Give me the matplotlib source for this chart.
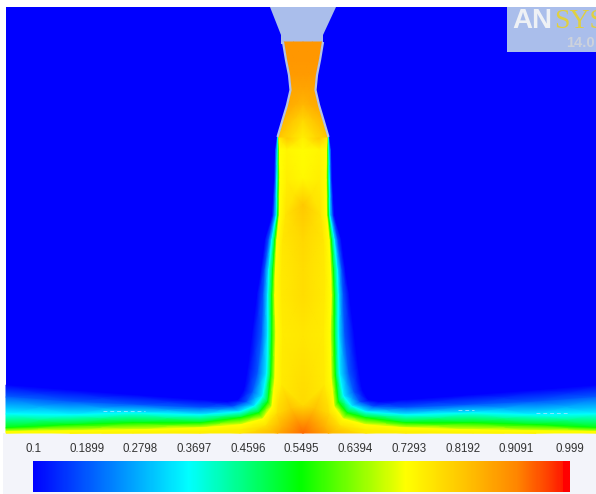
import numpy as np
import matplotlib
matplotlib.use("Agg")
import matplotlib.pyplot as plt
from matplotlib.colors import LinearSegmentedColormap, Normalize
from matplotlib.cm import ScalarMappable
from matplotlib.patches import Rectangle, Polygon

plt.rcParams['font.family'] = ['Liberation Sans', 'DejaVu Sans']

# --- COLORBAR ---
TICK_VALUES = [0.1, 0.1899, 0.2798, 0.3697, 0.4596, 0.5495, 0.6394, 0.7293, 0.8192, 0.9091, 0.999]
TICK_LABELS = ["0.1", "0.1899", "0.2798", "0.3697", "0.4596", "0.5495", "0.6394", "0.7293", "0.8192", "0.9091", "0.999"]
VMIN, VMAX = 0.1, 0.999
CMAP_STOPS = [(0.0, "#0000ff"), (0.29, "#00ffff"), (0.497, "#00ff00"), (0.695, "#ffff00"),
              (0.806, "#ffc300"), (0.90, "#ff8700"), (0.963, "#ff3c00"), (0.987, "#ff1900"),
              (0.988, "#ff0000"), (1.0, "#ff0000")]

# --- LEFT HALF OF THE JET, one row per contour, one column per station along it ---
CENTER_X = 303
BLUE_X = [6, 67, 133, 200, 228, 238, 244, 248, 252, 257, 261, 265, 272, 274, 275, 277]
BLUE_Y = [385, 390, 395, 400, 402, 400, 390, 367, 335, 295, 270, 240, 215, 180, 150, 137]
MID_X = [6, 70, 133, 200, 233, 247, 253, 258, 262, 263.5, 265, 269, 274, 275.5, 276, 277.5]
MID_Y = [397, 402, 405, 408, 407, 402, 392, 373, 335, 295, 270, 240, 215, 180, 150, 137]
CYAN_X = [6, 70, 133, 200, 240, 255, 263, 267, 268, 268, 269, 272, 276.5, 277, 277.5, 278]
CYAN_Y = [414, 415, 413, 415, 412, 406, 396, 373, 335, 295, 270, 240, 215, 180, 150, 137]
GREEN_X = [6, 70, 133, 200, 240, 259, 268, 271, 272, 272, 273, 275, 278, 278.5, 278.5, 278.5]
GREEN_Y = [428, 425, 423, 423, 418, 413, 402, 375, 335, 295, 270, 240, 215, 180, 150, 137]
YELLOW_X = [6, 70, 133, 200, 240, 263, 272, 275, 276, 275, 275.5, 277, 279.5, 280, 279.5, 279]
YELLOW_Y = [431.5, 431, 430, 428, 425, 419, 407, 380, 335, 295, 270, 240, 215, 180, 150, 137]
INNER_X = [6, 70, 133, 200, 240, 266, 277, 282, 283, 282, 282, 283, 286, 287, 287, 287]
INNER_Y = [433, 433, 432.5, 432, 430, 426, 414, 385, 335, 295, 270, 240, 215, 180, 150, 137]
CORE_X = [6, 70, 133, 200, 240, 278, 303, 303, 303, 303, 303, 303, 303, 303, 303, 303]
CORE_Y = [433, 433, 433, 433, 433, 433, 433, 405, 335, 295, 270, 240, 205, 178, 150, 137]

BLUE_V = [0.1] * 16
MID_V = [0.2] * 16
CYAN_V = [0.36] * 16
GREEN_V = [0.55] * 16
YELLOW_V = [0.725] * 15 + [0.76]
INNER_V = [0.73, 0.735, 0.74, 0.745, 0.75, 0.775, 0.785, 0.76, 0.755, 0.76, 0.76, 0.765, 0.77, 0.75, 0.74, 0.82]
CORE_V = [0.73, 0.74, 0.745, 0.75, 0.76, 0.86, 0.935, 0.785, 0.765, 0.78, 0.78, 0.79, 0.815, 0.735, 0.728, 0.75]

# --- NOZZLE ---
NOZZLE_Y = [42, 60, 75, 90, 105, 120, 137]
NOZZLE_HALF = [19, 16, 13, 11.5, 15, 19.5, 24.5]
NOZZLE_EDGE_V = [0.885, 0.885, 0.88, 0.865, 0.86, 0.84, 0.82]
NOZZLE_CENTER_V = [0.885, 0.885, 0.88, 0.865, 0.84, 0.79, 0.75]
FUNNEL_X = [270, 336, 323, 323, 281, 281]
FUNNEL_Y = [7, 7, 35, 44, 44, 35]

# --- SPECKS ---
SPECK_X = [(103, 145), (458, 474), (536, 568)]
SPECK_Y = [410.5, 410, 413]

LAVENDER = "#aabeeb"

fig = plt.figure(figsize=(5.96, 4.94), dpi=100, facecolor="white")
ax = fig.add_axes([0, 0, 1, 1])
ax.set_xlim(0, 596)
ax.set_ylim(494, 0)
ax.axis("off")

cmap = LinearSegmentedColormap.from_list("fluent", CMAP_STOPS, N=512)
norm = Normalize(VMIN, VMAX)

ax.add_patch(Rectangle((3, 433), 593, 61, color="#f3f4fa", lw=0))
ax.add_patch(Rectangle((6, 7), 590, 426, color="#0000ff", lw=0))

# jet, left half and its mirror
X = np.array([BLUE_X, MID_X, CYAN_X, GREEN_X, YELLOW_X, INNER_X, CORE_X], dtype=float)
Y = np.array([BLUE_Y, MID_Y, CYAN_Y, GREEN_Y, YELLOW_Y, INNER_Y, CORE_Y], dtype=float)
V = np.array([BLUE_V, MID_V, CYAN_V, GREEN_V, YELLOW_V, INNER_V, CORE_V], dtype=float)
ax.pcolormesh(X, Y, V, shading="gouraud", cmap=cmap, norm=norm)
ax.pcolormesh(2 * CENTER_X - X, Y, V, shading="gouraud", cmap=cmap, norm=norm)

# specks in the wall jet
for (x0, x1), y in zip(SPECK_X, SPECK_Y):
    ax.plot([x0, x1], [y, y], color="#a8e8ff", lw=0.7, ls=(0, (4, 3)), alpha=0.8)

# funnel and nozzle
ax.add_patch(Polygon(np.column_stack([FUNNEL_X, FUNNEL_Y]), closed=True, color=LAVENDER, lw=0))
half = np.array(NOZZLE_HALF)
ny = np.array(NOZZLE_Y, dtype=float)
nx = np.column_stack([CENTER_X - half, CENTER_X - half / 2, np.full(len(half), CENTER_X), CENTER_X + half / 2, CENTER_X + half])
nyy = np.column_stack([ny] * 5)
edge = np.array(NOZZLE_EDGE_V)
center = np.array(NOZZLE_CENTER_V)
nv = np.column_stack([edge, (edge + center) / 2, center, (edge + center) / 2, edge])
ax.pcolormesh(nx, nyy, nv, shading="gouraud", cmap=cmap, norm=norm)
ax.plot(CENTER_X - half - 1, ny, color="#b4c3e6", lw=1.6, solid_capstyle="butt")
ax.plot(CENTER_X + half + 1, ny, color="#b4c3e6", lw=1.6, solid_capstyle="butt")

# logo box
ax.add_patch(Rectangle((507, 7), 89, 45, color=LAVENDER, lw=0))
ax.text(512, 28, "AN", fontsize=20, fontweight="bold", color="#eef1f5", family=["Liberation Sans"], va="baseline")
ax.text(554, 28, "SYS", fontsize=20, color="#e0d040", family=["Liberation Serif"], va="baseline")
ax.text(566, 47, "14.0", fontsize=10.5, fontweight="bold", color="#cdd2dc", va="baseline")

# colorbar
cax = fig.add_axes([33 / 596, 1 - 492 / 494, (570 - 33) / 596, 31 / 494])
cb = fig.colorbar(ScalarMappable(norm=norm, cmap=cmap), cax=cax, orientation="horizontal")
cb.outline.set_visible(False)
cax.xaxis.set_ticks_position("top")
cax.set_xticks(TICK_VALUES)
cax.set_xticklabels(TICK_LABELS, fontsize=8.3, color="#333333")
cax.tick_params(axis="x", length=0, pad=4)
cax.minorticks_off()

fig.savefig("out.png", dpi=100)
